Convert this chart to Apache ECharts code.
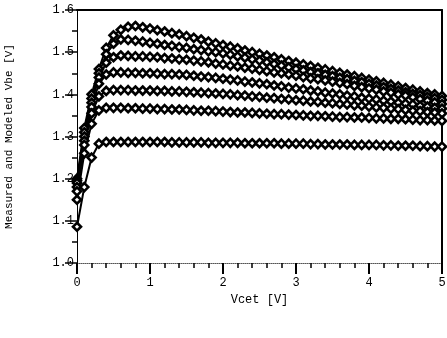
<!DOCTYPE html>
<html>
<head>
<meta charset="utf-8">
<script src="https://cdn.jsdelivr.net/npm/echarts@6/dist/echarts.min.js"></script>
<style>html,body{margin:0;padding:0;background:#fff;}#c{width:447px;height:338px;}</style>
</head>
<body>
<div id="c"></div>
<script>
var vcet = [0.0,0.1,0.2,0.3,0.4,0.5,0.6,0.7,0.8,0.9,1.0,1.1,1.2,1.3,1.4,1.5,1.6,1.7,1.8,1.9,2.0,2.1,2.2,2.3,2.4,2.5,2.6,2.7,2.8,2.9,3.0,3.1,3.2,3.3,3.4,3.5,3.6,3.7,3.8,3.9,4.0,4.1,4.2,4.3,4.4,4.5,4.6,4.7,4.8,4.9,5.0];
var xTicks = [0,1,2,3,4,5];
var yTicks = [1.0,1.1,1.2,1.3,1.4,1.5,1.6];

var vbe1 = [1.200,1.320,1.400,1.460,1.510,1.540,1.553,1.560,1.562,1.559,1.556,1.552,1.549,1.545,1.542,1.538,1.534,1.530,1.525,1.521,1.517,1.513,1.509,1.504,1.500,1.496,1.492,1.488,1.483,1.479,1.475,1.471,1.467,1.463,1.459,1.455,1.451,1.447,1.443,1.439,1.435,1.431,1.427,1.423,1.419,1.415,1.411,1.407,1.403,1.400,1.396];
var vbe2 = [1.195,1.310,1.390,1.450,1.495,1.520,1.530,1.529,1.527,1.525,1.522,1.520,1.517,1.515,1.512,1.510,1.507,1.505,1.502,1.500,1.497,1.494,1.490,1.487,1.483,1.480,1.476,1.472,1.468,1.464,1.460,1.457,1.453,1.450,1.446,1.443,1.439,1.436,1.432,1.429,1.425,1.421,1.417,1.413,1.409,1.405,1.401,1.398,1.394,1.391,1.387];
var vbe3 = [1.190,1.300,1.380,1.440,1.475,1.488,1.492,1.491,1.490,1.490,1.489,1.488,1.486,1.485,1.483,1.482,1.480,1.478,1.476,1.473,1.471,1.468,1.466,1.463,1.461,1.458,1.455,1.452,1.450,1.447,1.444,1.441,1.438,1.436,1.433,1.430,1.427,1.424,1.420,1.417,1.414,1.411,1.407,1.404,1.400,1.397,1.393,1.389,1.385,1.381,1.377];
var vbe4 = [1.180,1.290,1.370,1.425,1.447,1.452,1.452,1.451,1.451,1.450,1.450,1.449,1.448,1.448,1.447,1.446,1.444,1.442,1.441,1.439,1.437,1.435,1.433,1.430,1.428,1.426,1.424,1.421,1.419,1.416,1.414,1.412,1.409,1.407,1.404,1.402,1.400,1.397,1.395,1.392,1.390,1.388,1.385,1.383,1.380,1.378,1.376,1.373,1.371,1.368,1.366];
var vbe5 = [1.170,1.280,1.355,1.395,1.408,1.410,1.410,1.410,1.409,1.409,1.409,1.408,1.408,1.407,1.407,1.406,1.405,1.404,1.403,1.402,1.401,1.400,1.398,1.397,1.395,1.394,1.392,1.391,1.389,1.388,1.386,1.385,1.383,1.382,1.380,1.379,1.377,1.376,1.374,1.373,1.371,1.369,1.368,1.366,1.365,1.363,1.361,1.360,1.358,1.357,1.355];
var vbe6 = [1.150,1.260,1.330,1.362,1.368,1.368,1.368,1.367,1.367,1.366,1.366,1.365,1.365,1.364,1.364,1.363,1.362,1.361,1.361,1.360,1.359,1.358,1.357,1.357,1.356,1.355,1.354,1.353,1.353,1.352,1.351,1.350,1.349,1.349,1.348,1.347,1.346,1.346,1.345,1.345,1.344,1.343,1.343,1.342,1.342,1.341,1.340,1.339,1.339,1.338,1.337];
var vbe7 = [1.086,1.180,1.250,1.283,1.287,1.287,1.287,1.287,1.287,1.287,1.287,1.287,1.287,1.286,1.286,1.286,1.286,1.286,1.285,1.285,1.285,1.285,1.285,1.284,1.284,1.284,1.284,1.284,1.283,1.283,1.283,1.283,1.282,1.282,1.281,1.281,1.281,1.281,1.280,1.280,1.280,1.280,1.279,1.279,1.278,1.278,1.278,1.277,1.277,1.276,1.276];

var curves = [vbe1, vbe2, vbe3, vbe4, vbe5, vbe6, vbe7];
var FONT = 'Liberation Mono';

function mk(vals) {
  return {
    type: 'line',
    data: vcet.map(function (v, i) { return [v, vals[i]]; }),
    symbol: 'diamond',
    symbolSize: 8,
    showAllSymbol: true,
    lineStyle: { color: '#000', width: 2 },
    itemStyle: { color: '#fff', borderColor: '#000', borderWidth: 2.6 },
    emphasis: { disabled: true },
    silent: true
  };
}

var chart = echarts.init(document.getElementById('c'), null, { renderer: 'canvas' });
chart.setOption({
  animation: false,
  backgroundColor: '#fff',
  grid: { left: 77, right: 5, top: 10, bottom: 75, containLabel: false, outerBoundsMode: 'none' },
  xAxis: [{
    type: 'value', min: 0, max: 5, interval: 1,
    name: 'Vcet [V]', nameLocation: 'middle', nameGap: 30,
    nameTextStyle: { fontFamily: FONT, fontSize: 12, color: '#000' },
    axisLine: { show: true, lineStyle: { color: '#555', width: 1, type: 'dotted' } },
    axisTick: { show: true, inside: false, length: 11, lineStyle: { color: '#000', width: 2 } },
    minorTick: { show: true, splitNumber: 5, length: 5, lineStyle: { color: '#000', width: 1.5 } },
    splitLine: { show: false },
    axisLabel: { fontFamily: FONT, fontSize: 12, color: '#000', margin: 14,
      formatter: function (v) { return xTicks.indexOf(v) >= 0 ? String(v) : ''; } }
  }, {
    type: 'value', min: 0, max: 5, position: 'top',
    axisLine: { show: true, onZero: false, lineStyle: { color: '#000', width: 2 } },
    axisTick: { show: false }, axisLabel: { show: false }, splitLine: { show: false }
  }],
  yAxis: [{
    type: 'value', min: 1.0, max: 1.6, interval: 0.1,
    name: 'Measured and Modeled Vbe [V]', nameLocation: 'middle', nameGap: 62,
    nameRotate: 90,
    nameTextStyle: { fontFamily: FONT, fontSize: 11, color: '#000' },
    axisLine: { show: true, onZero: false, lineStyle: { color: '#000', width: 1 } },
    axisTick: { show: true, inside: false, length: 12, lineStyle: { color: '#000', width: 1.5 } },
    minorTick: { show: true, splitNumber: 2, length: 5, lineStyle: { color: '#000', width: 1.5 } },
    splitLine: { show: false },
    axisLabel: { fontFamily: FONT, fontSize: 12, color: '#000', margin: 3,
      formatter: function (v) { return v.toFixed(1); } }
  }, {
    type: 'value', min: 1.0, max: 1.6, position: 'right',
    axisLine: { show: true, onZero: false, lineStyle: { color: '#000', width: 2 } },
    axisTick: { show: false }, axisLabel: { show: false }, splitLine: { show: false }
  }],
  series: curves.map(mk)
});
</script>
</body>
</html>
